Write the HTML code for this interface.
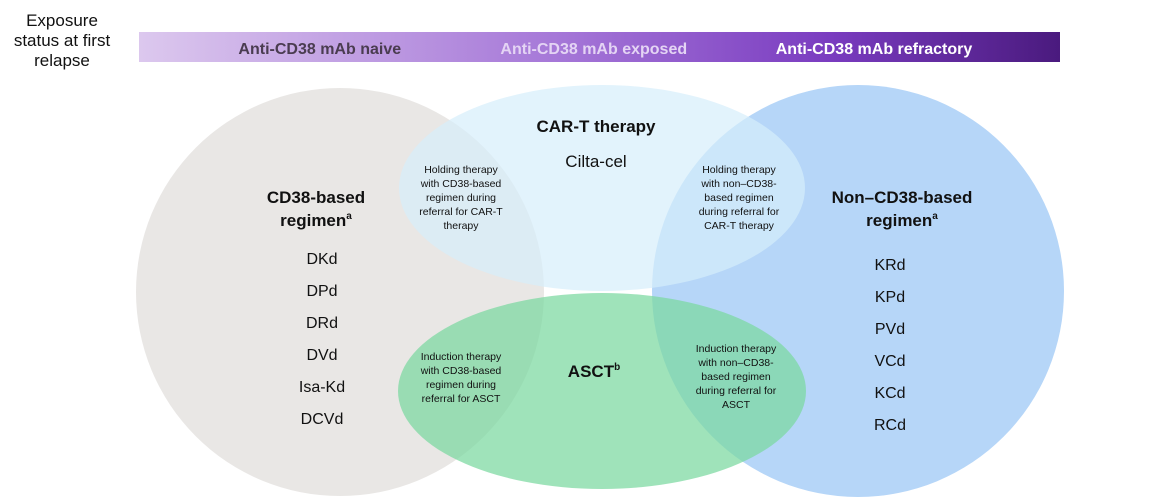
<!DOCTYPE html>
<html><head><style>
body{margin:0;background:#fff;width:1159px;height:499px;overflow:hidden;font-family:"Liberation Sans",sans-serif}
</style></head><body>
<svg width="1159" height="499" viewBox="0 0 1159 499" xmlns="http://www.w3.org/2000/svg" font-family="Liberation Sans, sans-serif">
<defs>
<linearGradient id="g" x1="0" x2="1" y1="0" y2="0">
<stop offset="0" stop-color="#dcc8ee"/>
<stop offset="0.45" stop-color="#a678d8"/>
<stop offset="0.75" stop-color="#7a3cc0"/>
<stop offset="1" stop-color="#4a1a7e"/>
</linearGradient>
</defs>
<text font-size="17" fill="#111" text-anchor="middle"><tspan x="62" y="26">Exposure</tspan><tspan x="62" y="46">status at first</tspan><tspan x="62" y="66">relapse</tspan></text>
<rect x="139" y="32" width="921" height="30" fill="url(#g)"/>
<text font-size="16" font-weight="bold" text-anchor="middle">
<tspan x="322" y="54" fill="#4a3c50">Anti-CD38 mAb naive</tspan>
<tspan x="596" y="54" fill="#e4d4f4">Anti-CD38 mAb exposed</tspan>
<tspan x="874" y="54" fill="#fff">Anti-CD38 mAb refractory</tspan>
</text>
<circle cx="340" cy="292" r="204" fill="#e9e7e5"/>
<circle cx="858" cy="291" r="206" fill="#b6d6f8"/>
<ellipse cx="602" cy="188" rx="203" ry="103" fill="#d6eefb" opacity="0.7"/>
<ellipse cx="602" cy="391" rx="204" ry="98" fill="#7ad8a0" opacity="0.72"/>
<g fill="#111" text-anchor="middle">
<text x="596" y="132" font-size="17" font-weight="bold">CAR-T therapy</text>
<text x="596" y="167" font-size="17">Cilta-cel</text>
<text font-size="17" font-weight="bold"><tspan x="316" y="203">CD38-based</tspan><tspan x="316" y="226">regimen<tspan font-size="10" dy="-7">a</tspan></tspan></text>
<text font-size="17" font-weight="bold"><tspan x="902" y="203">Non–CD38-based</tspan><tspan x="902" y="226">regimen<tspan font-size="10" dy="-7">a</tspan></tspan></text>
<text font-size="16"><tspan x="322" y="264">DKd</tspan><tspan x="322" y="296">DPd</tspan><tspan x="322" y="328">DRd</tspan><tspan x="322" y="360">DVd</tspan><tspan x="322" y="392">Isa-Kd</tspan><tspan x="322" y="424">DCVd</tspan></text>
<text font-size="16"><tspan x="890" y="270">KRd</tspan><tspan x="890" y="302">KPd</tspan><tspan x="890" y="334">PVd</tspan><tspan x="890" y="366">VCd</tspan><tspan x="890" y="398">KCd</tspan><tspan x="890" y="430">RCd</tspan></text>
<text font-size="10.5"><tspan x="461" y="173">Holding therapy</tspan><tspan x="461" y="187">with CD38-based</tspan><tspan x="461" y="201">regimen during</tspan><tspan x="461" y="215">referral for CAR-T</tspan><tspan x="461" y="229">therapy</tspan></text>
<text font-size="10.5"><tspan x="739" y="173">Holding therapy</tspan><tspan x="739" y="187">with non–CD38-</tspan><tspan x="739" y="201">based regimen</tspan><tspan x="739" y="215">during referral for</tspan><tspan x="739" y="229">CAR-T therapy</tspan></text>
<text font-size="10.5"><tspan x="461" y="360">Induction therapy</tspan><tspan x="461" y="374">with CD38-based</tspan><tspan x="461" y="388">regimen during</tspan><tspan x="461" y="402">referral for ASCT</tspan></text>
<text font-size="10.5"><tspan x="736" y="352">Induction therapy</tspan><tspan x="736" y="366">with non–CD38-</tspan><tspan x="736" y="380">based regimen</tspan><tspan x="736" y="394">during referral for</tspan><tspan x="736" y="408">ASCT</tspan></text>
<text x="594" y="377" font-size="17" font-weight="bold">ASCT<tspan font-size="10" dy="-7">b</tspan></text>
</g>
</svg>
</body></html>
